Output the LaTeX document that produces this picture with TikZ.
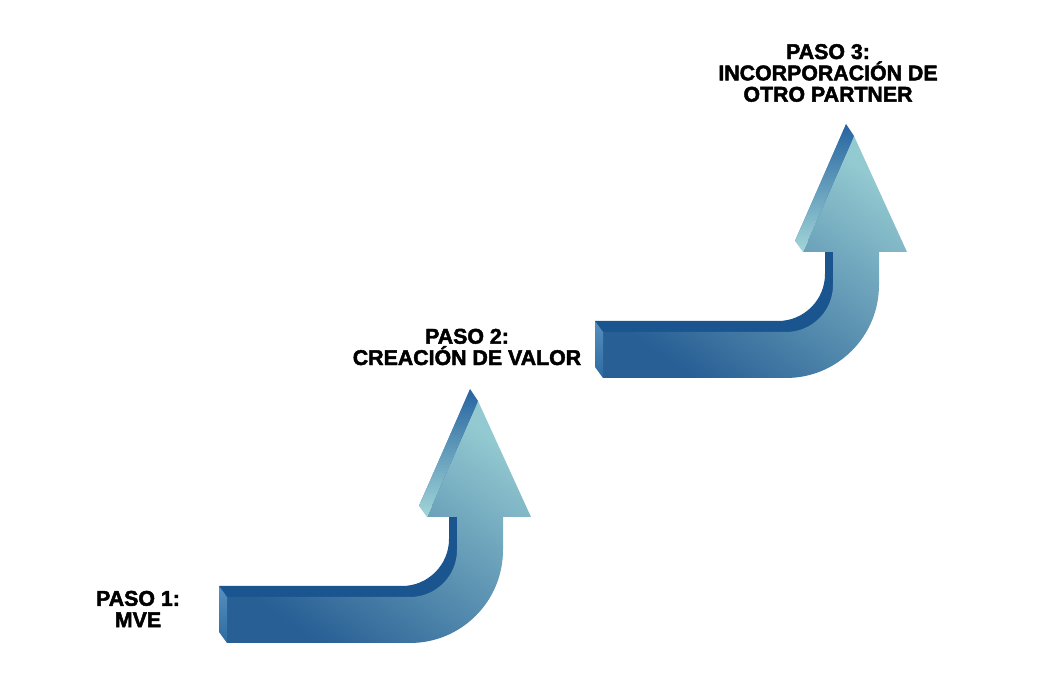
\documentclass[tikz,border=0pt]{standalone}
\usepackage{fontspec}
\setmainfont{Liberation Sans}
\newfontfamily\stepfont[FakeBold=2.2]{Liberation Sans Bold}
\usetikzlibrary{positioning}

\definecolor{sidedark}{HTML}{1A5590}
\definecolor{frontdark}{HTML}{285F95}
\definecolor{frontmid}{HTML}{4584B0}
\definecolor{frontlight}{HTML}{93C9D0}
\definecolor{edgedark}{HTML}{2664A0}
\definecolor{edgelight}{HTML}{A2D6D8}
\definecolor{bevellight}{HTML}{5690C0}
\definecolor{beveldark}{HTML}{2E6AA0}

% outline of one bent arrow, front face (1 unit = 1 px)
\newcommand{\arrowpath}{(227,77) -- (410,77) arc[start angle=-90, end angle=0, radius=47]
  -- (457,157) -- (427,157) -- (478,273) -- (531,157) -- (503,157) -- (503,124)
  arc[start angle=0, end angle=-90, radius=93] -- (227,31) -- cycle}

\newcommand{\steparrow}{%
  % back face gives the dark sides
  \fill[sidedark] [shift={(-8,11)}] \arrowpath;
  \shade[top color=frontlight, middle color=frontmid, bottom color=frontdark, shading angle=-35] \arrowpath;
  % left side of the head
  \shade[top color=edgedark, bottom color=edgelight] (470,285) -- (478,273) -- (427,157) -- (419,168) -- cycle;
  % left end
  \shade[top color=bevellight, bottom color=beveldark] (219,88) -- (227,77) -- (227,31) -- (219,42) -- cycle;
}

\tikzset{
  steplabel/.style={font=\stepfont\fontsize{16}{16}\selectfont, align=center, inner sep=0pt}
}

\begin{document}
\begin{tikzpicture}[x=0.75pt, y=0.75pt]
  \useasboundingbox (0,0) rectangle (1043,674);

  % paso 1
  \begin{scope}
    \steparrow
  \end{scope}

  % paso 2
  \begin{scope}[shift={(376,265)}]
    \steparrow
  \end{scope}

  \node[steplabel] (paso1) at (138,65) {PASO 1:\\MVE};
  \node[steplabel] (paso2) at (467,327) {PASO 2:\\CREACIÓN DE VALOR};
  \node[steplabel] (paso3) at (828,601) {PASO 3:\\INCORPORACIÓN DE\\OTRO PARTNER};
\end{tikzpicture}
\end{document}
